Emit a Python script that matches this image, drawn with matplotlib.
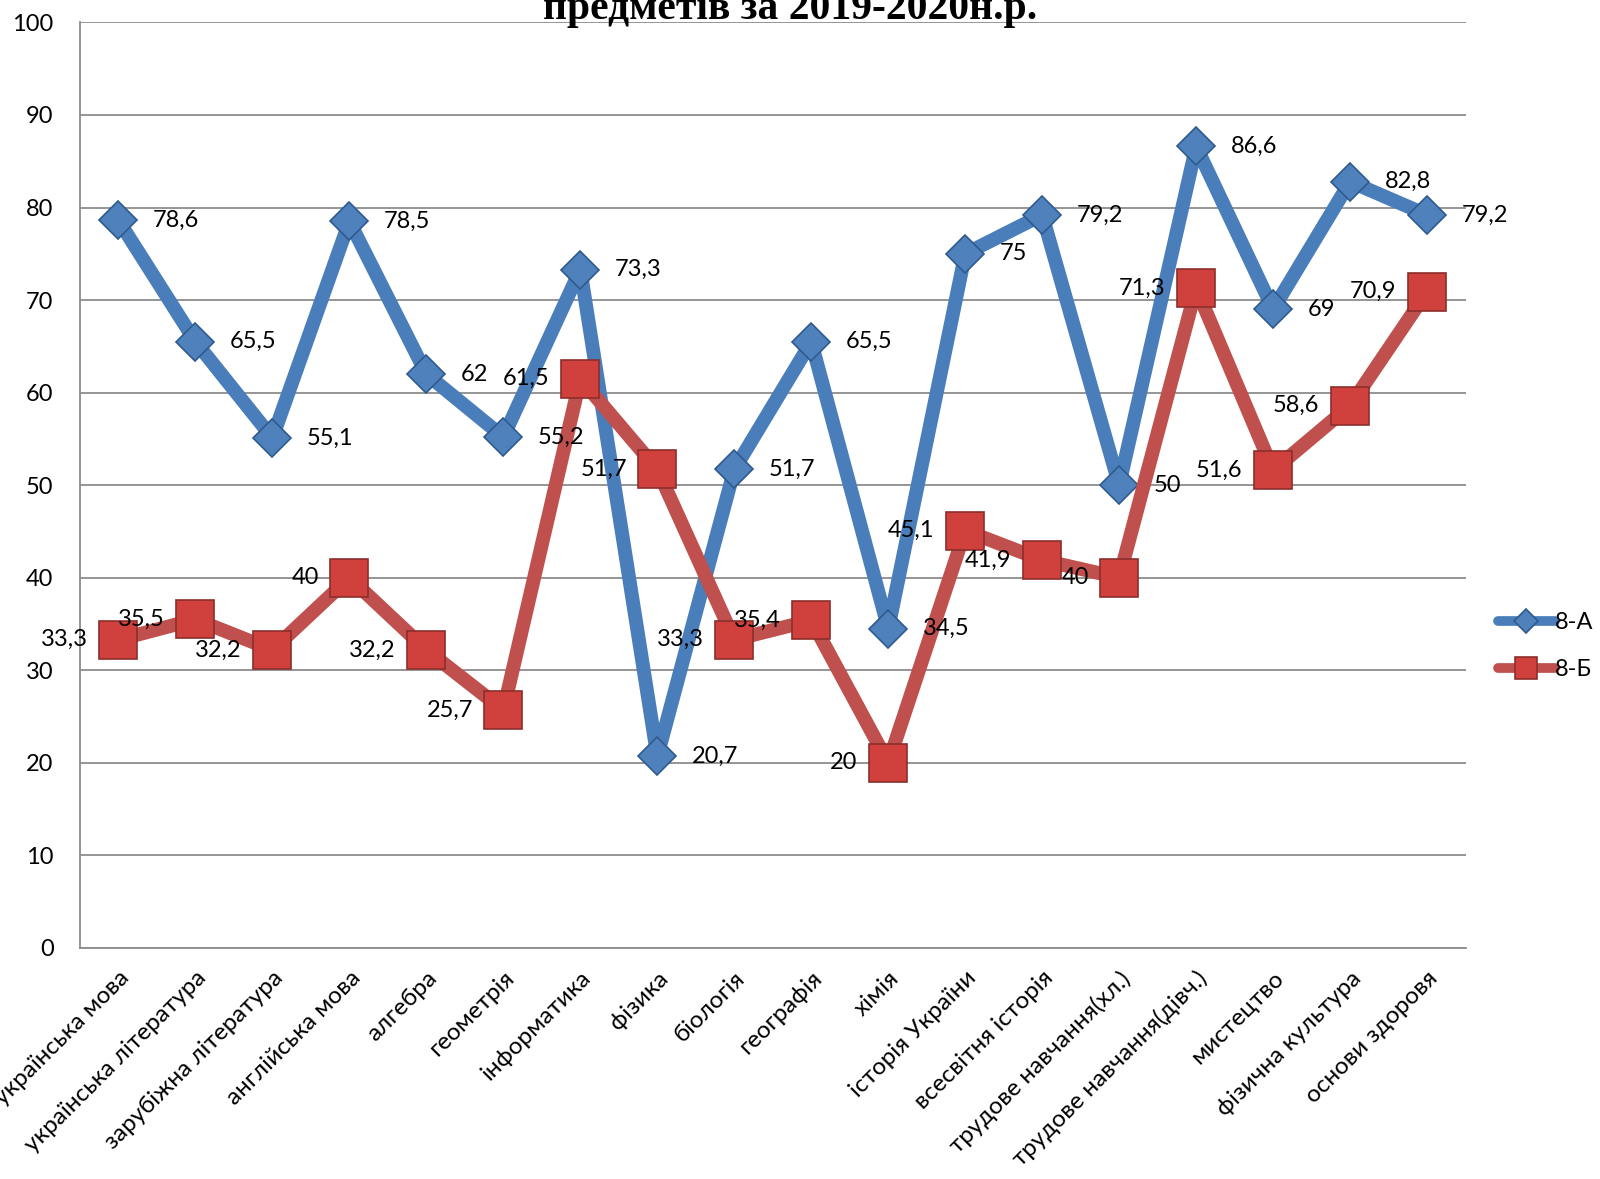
import matplotlib.pyplot as plt
import numpy as np

plt.rcParams['font.family'] = ['Lato', 'DejaVu Sans']

# предмети
subjects = ['українська мова', 'українська література', 'зарубіжна література',
            'англійська мова', 'алгебра', 'геометрія', 'інформатика', 'фізика',
            'біологія', 'географія', 'хімія', 'історія України', 'всесвітня історія',
            'трудове навчання(хл.)', 'трудове навчання(дівч.)', 'мистецтво',
            'фізична культура', 'основи здоровя']

# якість знань, %
class_a = [78.6, 65.5, 55.1, 78.5, 62, 55.2, 73.3, 20.7, 51.7, 65.5, 34.5, 75,
           79.2, 50, 86.6, 69, 82.8, 79.2]
class_b = [33.3, 35.5, 32.2, 40, 32.2, 25.7, 61.5, 51.7, 33.3, 35.4, 20, 45.1,
           41.9, 40, 71.3, 51.6, 58.6, 70.9]

blue = '#4A7EBB'
red = '#C0504D'


def fmt(v):
    return f'{v:g}'.replace('.', ',')


fig = plt.figure(figsize=(16, 11.79), dpi=100)
ax = fig.add_axes([0.05, 0.196, 0.866, 0.785])

x = np.arange(len(subjects))

ax.plot(x, class_a, color=blue, linewidth=10, marker='D', markersize=19,
        markerfacecolor='#4F81BD', markeredgecolor='#2F5A8E', markeredgewidth=1.2,
        label='8-А', zorder=3, solid_joinstyle='round', solid_capstyle='round')
ax.plot(x, class_b, color=red, linewidth=10, marker='s', markersize=27,
        markerfacecolor='#D0403C', markeredgecolor='#8C2F2C', markeredgewidth=1.2,
        label='8-Б', zorder=4, solid_joinstyle='round', solid_capstyle='round')

# підписи даних
for xi, v in zip(x, class_a):
    ax.annotate(fmt(v), (xi, v), xytext=(25, 0), textcoords='offset points',
                ha='left', va='center', fontsize=17, zorder=6)
for xi, v in zip(x, class_b):
    ax.annotate(fmt(v), (xi, v), xytext=(-22, 0), textcoords='offset points',
                ha='right', va='center', fontsize=17, zorder=6)

ax.set_xlim(-0.5, len(subjects) - 0.5)
ax.set_ylim(0, 100)
ax.set_yticks(range(0, 101, 10))
ax.yaxis.grid(True, color='#8C8C8C', linewidth=1.3)
ax.set_axisbelow(True)
ax.tick_params(axis='y', length=0, pad=19, labelsize=17)
ax.tick_params(axis='x', length=0, pad=14)
ax.set_xticks(x)
ax.set_xticklabels(subjects, rotation=45, ha='right', rotation_mode='anchor',
                   fontsize=17.5)

for side in ['top', 'right']:
    ax.spines[side].set_visible(False)
for side in ['left', 'bottom']:
    ax.spines[side].set_color('#8C8C8C')
    ax.spines[side].set_linewidth(1.3)

leg = ax.legend(loc='center left', bbox_to_anchor=(1.008, 0.326), frameon=False,
                fontsize=17, handlelength=2.4, labelspacing=1.1, handletextpad=0.0)
for h in leg.legend_handles:
    h.set_markersize(16 if h.get_marker() == 's' else 12)
    h.set_linewidth(7)

fig.text(0.494, 0.992, 'предметів за 2019-2020н.р.', ha='center', va='center',
         fontsize=30, fontweight='bold', family='Liberation Serif')

fig.savefig('out.png', dpi=100)
